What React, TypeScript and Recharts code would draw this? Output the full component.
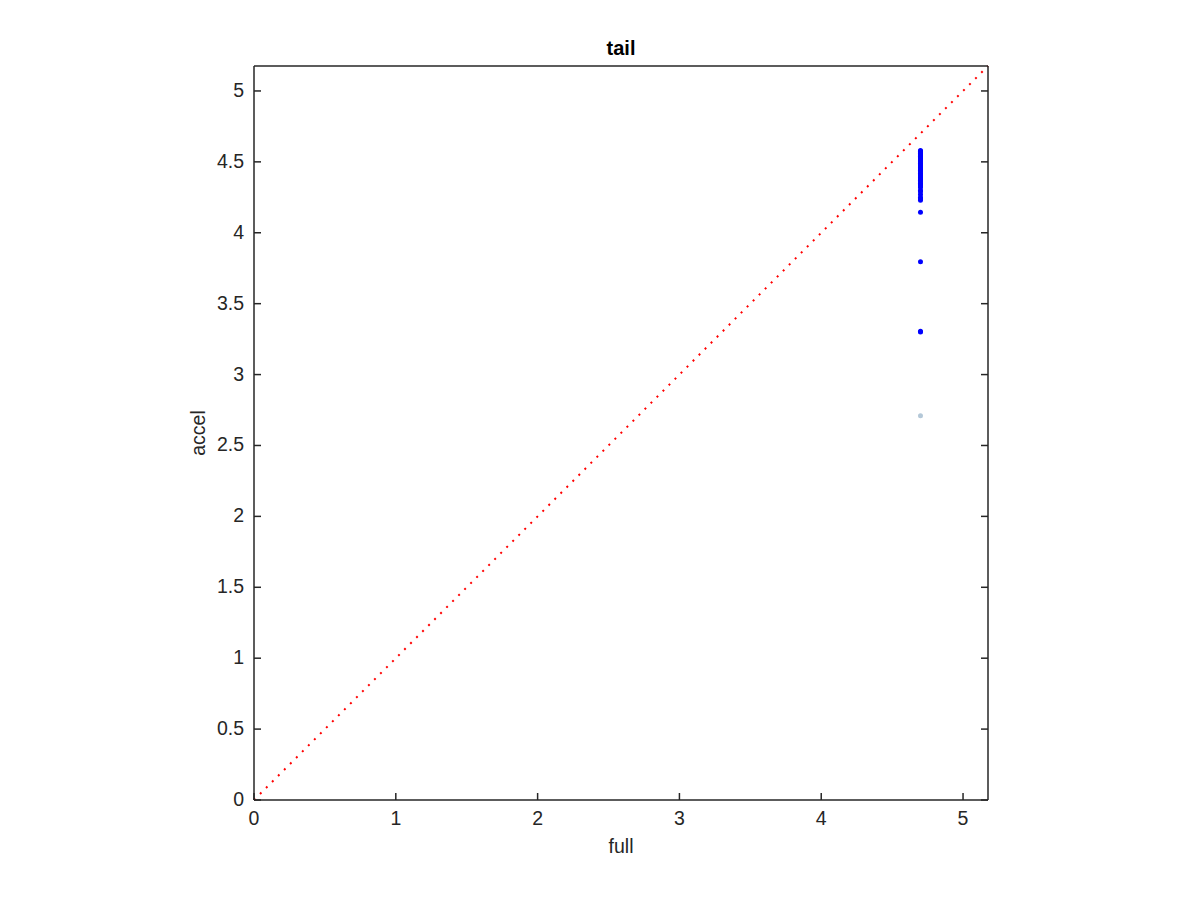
import React from "react";
import { ScatterChart, Scatter, XAxis, YAxis, ReferenceLine, Label } from "recharts";

const axisMax = 5.176;
const xTicks = [0, 1, 2, 3, 4, 5];
const yTicks = [0, 0.5, 1, 1.5, 2, 2.5, 3, 3.5, 4, 4.5, 5];

const fullValue = 4.7;
const accelValues = [
  4.58, 4.575, 4.57, 4.565, 4.56, 4.555, 4.55, 4.545, 4.54, 4.535, 4.53, 4.52,
  4.51, 4.5, 4.49, 4.48, 4.47, 4.46, 4.45, 4.44, 4.43, 4.42, 4.41, 4.4, 4.39,
  4.38, 4.37, 4.36, 4.35, 4.34, 4.33, 4.32, 4.3, 4.29, 4.27, 4.25, 4.24, 4.23,
  4.145, 3.795, 3.305, 3.3,
];
const outlierAccel = [2.71];

const mainPoints = accelValues.map((a) => ({ full: fullValue, accel: a }));
const outlierPoints = outlierAccel.map((a) => ({ full: fullValue, accel: a }));

const axisColor = "#262626";
const font = "'Liberation Sans', Arial, sans-serif";
const fontSize = 19.5;
const tickLen = 7;

const LeftTick = ({ x, y, payload }: any) => (
  <g>
    <line x1={x} x2={x + tickLen} y1={y} y2={y} stroke={axisColor} strokeWidth={1.5} />
    <text x={x - 10} y={y + 6} textAnchor="end" fontSize={fontSize} fontFamily={font} fill={axisColor}>
      {payload.value}
    </text>
  </g>
);
const RightTick = ({ x, y }: any) => (
  <line x1={x - tickLen} x2={x} y1={y} y2={y} stroke={axisColor} strokeWidth={1.5} />
);
const BottomTick = ({ x, y, payload }: any) => (
  <g>
    <line x1={x} x2={x} y1={y - tickLen} y2={y} stroke={axisColor} strokeWidth={1.5} />
    <text x={x} y={y + 25} textAnchor="middle" fontSize={fontSize} fontFamily={font} fill={axisColor}>
      {payload.value}
    </text>
  </g>
);
const TopTick = ({ x, y }: any) => (
  <line x1={x} x2={x} y1={y} y2={y + tickLen} stroke={axisColor} strokeWidth={1.5} />
);

const Dot = (color: string) => (props: any) => (
  <circle cx={props.cx} cy={props.cy} r={2.5} fill={color} />
);

export default function App() {
  return (
    <div style={{ position: "absolute", left: 0, top: 0, width: 1200, height: 900, background: "#fff" }}>
      <ScatterChart width={1200} height={900} margin={{ top: 36, right: 172, bottom: 70, left: 214 }}>
        <XAxis
          xAxisId="b"
          dataKey="full"
          type="number"
          domain={[0, axisMax]}
          ticks={xTicks}
          allowDataOverflow
          height={30}
          tickLine={false}
          tickSize={0}
          tickMargin={0}
          tick={<BottomTick />}
          axisLine={{ stroke: axisColor, strokeWidth: 1.5 }}
        >
          <Label
            content={({ viewBox }: any) => (
              <text x={viewBox.x + viewBox.width / 2} y={viewBox.y + 53} textAnchor="middle" fontSize={fontSize} fontFamily={font} fill={axisColor}>
                full
              </text>
            )}
          />
        </XAxis>
        <XAxis
          xAxisId="t"
          orientation="top"
          type="number"
          domain={[0, axisMax]}
          ticks={xTicks}
          allowDataOverflow
          height={30}
          tickLine={false}
          tickSize={0}
          tickMargin={0}
          tick={<TopTick />}
          axisLine={{ stroke: axisColor, strokeWidth: 1.5 }}
        >
          <Label
            content={({ viewBox }: any) => (
              <text x={viewBox.x + viewBox.width / 2} y={viewBox.y + viewBox.height - 11} textAnchor="middle" fontSize={20} fontWeight="bold" fontFamily={font} fill="#000">
                tail
              </text>
            )}
          />
        </XAxis>
        <YAxis
          yAxisId="l"
          dataKey="accel"
          type="number"
          domain={[0, axisMax]}
          ticks={yTicks}
          allowDataOverflow
          width={40}
          tickLine={false}
          tickSize={0}
          tickMargin={0}
          tick={<LeftTick />}
          axisLine={{ stroke: axisColor, strokeWidth: 1.5 }}
        >
          <Label
            content={({ viewBox }: any) => {
              const cx = viewBox.x - 9;
              const cy = viewBox.y + viewBox.height / 2;
              return (
                <text x={cx} y={cy} textAnchor="middle" fontSize={fontSize} fontFamily={font} fill={axisColor} transform={`rotate(-90, ${cx}, ${cy})`}>
                  accel
                </text>
              );
            }}
          />
        </YAxis>
        <YAxis
          yAxisId="r"
          orientation="right"
          type="number"
          domain={[0, axisMax]}
          ticks={yTicks}
          allowDataOverflow
          width={40}
          tickLine={false}
          tickSize={0}
          tickMargin={0}
          tick={<RightTick />}
          axisLine={{ stroke: axisColor, strokeWidth: 1.5 }}
        />
        <ReferenceLine
          xAxisId="b"
          yAxisId="l"
          segment={[
            { x: 0, y: 0 },
            { x: axisMax, y: axisMax },
          ]}
          stroke="#ff0000"
          strokeWidth={2}
          strokeDasharray="2 6.5"
          ifOverflow="visible"
        />
        <Scatter xAxisId="b" yAxisId="l" data={outlierPoints} shape={Dot("#b4c8d8")} isAnimationActive={false} />
        <Scatter xAxisId="b" yAxisId="l" data={mainPoints} shape={Dot("#0000ff")} isAnimationActive={false} />
        <Scatter xAxisId="t" yAxisId="r" data={[]} isAnimationActive={false} />
      </ScatterChart>
    </div>
  );
}
